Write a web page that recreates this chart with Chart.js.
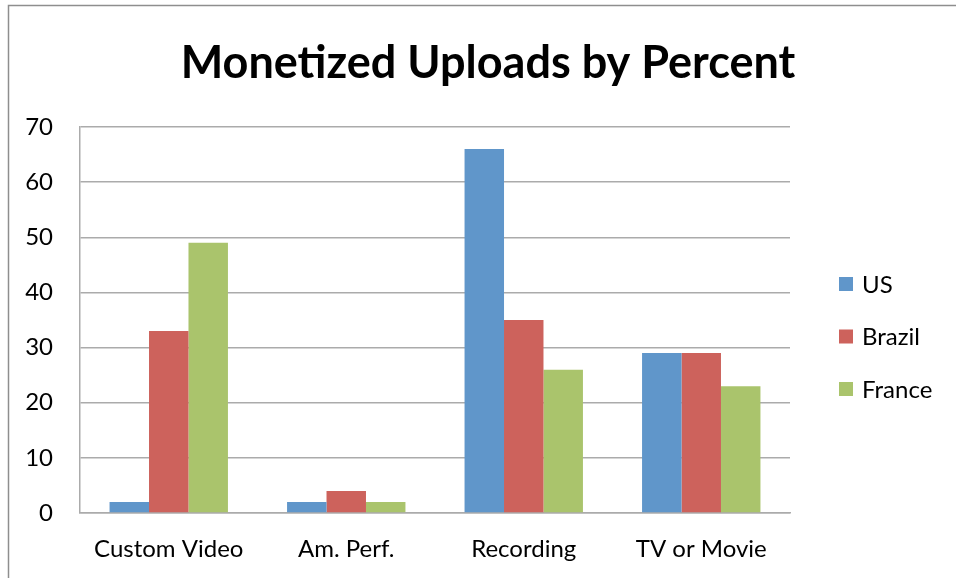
<!DOCTYPE html>
<html>
<head>
<meta charset="utf-8">
<script src="https://cdn.jsdelivr.net/npm/chart.js@4.4.1/dist/chart.umd.min.js"></script>
<style>
html,body{margin:0;padding:0;background:#fff;overflow:hidden}
#wrap{width:956px;height:578px;position:relative}
</style>
</head>
<body>
<div id="wrap"><canvas id="c" width="956" height="578"></canvas></div>
<script>
const categories = ['Custom Video', 'Am. Perf.', 'Recording', 'TV or Movie'];
const seriesNames = ['US', 'Brazil', 'France'];
const usValues = [2, 2, 66, 29];
const brazilValues = [33, 4, 35, 29];
const franceValues = [49, 2, 26, 23];
const yTickMin = 0;
const yTickMax = 70;
const yTickStep = 10;

const colors = ['#6096CA', '#CD625C', '#AAC46C'];
const FONT = 'Lato';

const framePlugin = {
  id: 'frame',
  afterDraw(chart) {
    const ctx = chart.ctx;
    ctx.save();
    ctx.strokeStyle = '#8e8e8e';
    ctx.lineWidth = 1.5;
    ctx.beginPath();
    ctx.moveTo(8.5, 578);
    ctx.lineTo(8.5, 5.5);
    ctx.lineTo(956, 5.5);
    ctx.stroke();
    ctx.restore();
  }
};

const legendPlugin = {
  id: 'sideLegend',
  afterDraw(chart) {
    const ctx = chart.ctx;
    ctx.save();
    chart.data.datasets.forEach((d, i) => {
      const y = 284 + i * 52.5;
      ctx.fillStyle = d.backgroundColor;
      ctx.fillRect(839, y - 7, 14, 14);
      ctx.fillStyle = '#000';
      ctx.font = '24px ' + FONT;
      ctx.textBaseline = 'middle';
      ctx.textAlign = 'left';
      ctx.fillText(d.label, 862, y + 1);
    });
    ctx.restore();
  }
};

new Chart(document.getElementById('c'), {
  type: 'bar',
  data: {
    labels: categories,
    datasets: [
      { label: seriesNames[0], data: usValues, backgroundColor: colors[0] },
      { label: seriesNames[1], data: brazilValues, backgroundColor: colors[1] },
      { label: seriesNames[2], data: franceValues, backgroundColor: colors[2] }
    ]
  },
  options: {
    responsive: false,
    animation: false,
    devicePixelRatio: 1,
    layout: { padding: { left: 20, right: 0, top: 0, bottom: 0 } },
    datasets: { bar: { categoryPercentage: 0.667, barPercentage: 1.0, borderWidth: 0 } },
    plugins: {
      legend: { display: false },
      tooltip: { enabled: false },
      title: {
        display: true,
        text: 'Monetized Uploads by Percent',
        color: '#000',
        font: { family: FONT, size: 45, weight: 'bold' },
        padding: { top: 36, bottom: 37 }
      }
    },
    scales: {
      x: {
        grid: { display: false, drawTicks: false },
        border: { display: true, color: '#ababab', width: 1.5 },
        ticks: { color: '#000', font: { family: FONT, size: 24 }, padding: 22, maxRotation: 0 },
        afterFit(s) { s.height = 65; s.paddingRight = 166; }
      },
      y: {
        min: yTickMin,
        max: yTickMax,
        ticks: { stepSize: yTickStep, color: '#000', font: { family: FONT, size: 24 }, padding: 27 },
        grid: { color: '#ababab', lineWidth: 1.5, drawTicks: false },
        border: { display: true, color: '#ababab', width: 1.5 },
        afterFit(s) { s.width = 60; }
      }
    }
  },
  plugins: [framePlugin, legendPlugin]
});
</script>
</body>
</html>
